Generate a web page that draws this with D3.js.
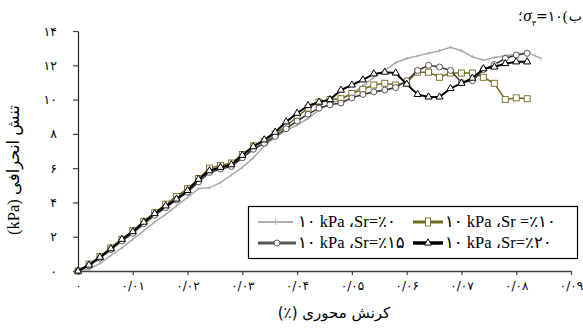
<!DOCTYPE html>
<html><head><meta charset="utf-8">
<script src="https://cdn.jsdelivr.net/npm/d3@7"></script>
<style>
html,body{margin:0;padding:0;background:#fff;}
svg{display:block;}
.ltr{unicode-bidi:bidi-override;direction:ltr;}
</style></head>
<body><svg id="c" width="583" height="329"></svg>
<script>
// ---- data ----
const strain = [0,0.002,0.004,0.006,0.008,0.010,0.012,0.014,0.016,0.018,0.020,0.022,0.024,0.026,0.028,0.030,0.032,0.034,0.036,0.038,0.040,0.042,0.044,0.046,0.048,0.050,0.052,0.054,0.056,0.058,0.060,0.062,0.064,0.066,0.068,0.070,0.072,0.074,0.076,0.078,0.080,0.082];
const sr20 = [0,0.35,0.8,1.3,1.85,2.3,2.85,3.35,3.8,4.2,4.7,5.35,5.85,6.05,6.2,6.75,7.25,7.65,8.1,8.7,9.2,9.65,9.85,10.0,10.55,10.85,11.15,11.5,11.6,11.55,10.9,10.3,10.15,10.15,10.65,10.95,11.25,11.8,11.9,12.1,12.2,12.2];
const sr10 = [0,0.4,0.85,1.35,1.85,2.35,2.9,3.4,3.9,4.35,4.8,5.4,6.0,6.15,6.3,6.8,7.3,7.55,8.0,8.45,9.0,9.5,9.85,10.0,10.05,10.35,10.6,10.85,10.95,10.85,11.0,11.6,11.6,11.3,11.55,11.55,11.55,11.3,10.95,10.0,10.1,10.05];
const sr15 = [0,0.3,0.75,1.25,1.75,2.2,2.75,3.25,3.7,4.15,4.6,5.2,5.75,5.95,6.1,6.6,7.1,7.45,7.85,8.3,8.75,9.15,9.5,9.7,9.8,10.1,10.3,10.45,10.55,10.7,11.1,11.7,12.0,11.9,11.7,11.0,11.1,11.75,12.05,12.4,12.6,12.7];
const strain0 = [0,0.002,0.004,0.006,0.008,0.010,0.012,0.014,0.016,0.018,0.020,0.022,0.024,0.026,0.028,0.030,0.032,0.034,0.036,0.038,0.040,0.042,0.044,0.046,0.048,0.050,0.052,0.054,0.056,0.058,0.060,0.062,0.064,0.066,0.068,0.070,0.072,0.074,0.076,0.078,0.080,0.082,0.0835,0.0845];
const sr0 = [0,0.1,0.45,0.9,1.35,1.85,2.35,2.85,3.3,3.8,4.3,4.8,4.85,5.15,5.6,6.05,6.6,7.3,7.8,8.2,8.5,8.9,9.4,9.75,10.0,10.35,10.8,11.3,11.7,12.15,12.4,12.55,12.7,12.85,13.05,12.85,12.5,12.3,12.45,12.55,12.65,12.75,12.55,12.4];
const xTickValues = [0,0.01,0.02,0.03,0.04,0.05,0.06,0.07,0.08,0.09];
const xTickLabels = ["۰","۰/۰۱","۰/۰۲","۰/۰۳","۰/۰۴","۰/۰۵","۰/۰۶","۰/۰۷","۰/۰۸","۰/۰۹"];
const yTickValues = [0,2,4,6,8,10,12,14];
const yTickLabels = ["۰","۲","۴","۶","۸","۱۰","۱۲","۱۴"];
const legendLabels = ["۱۰ kPa ،Sr=٪۰","۱۰ kPa ،Sr =٪۱۰","۱۰ kPa ،Sr=٪۱۵","۱۰ kPa ،Sr=٪۲۰"];
const xTitle = "کرنش محوری (٪)";
const titlePieces = ["؛","σ","۳","=۱۰","(","ب"];       // visual order, left to right

// ---- chart ----
const svg = d3.select("#c");
const x = d3.scaleLinear().domain([0,0.09]).range([78,571]);
const y = d3.scaleLinear().domain([0,14]).range([271,31]);

// helper: lay separate text pieces left-to-right in visual order
function layRow(g, pieces, y0, anchorX, align){
  const els = pieces.map(p=>{
    const t = g.append("text").attr("direction","ltr").attr("text-anchor","start")
      .attr("y",y0+(p.dy||0))
      .attr("font-family",p.font).attr("font-size",p.size).text(p.text);
    if(p.italic) t.attr("font-style","italic");
    return t;
  });
  const widths = els.map(e=>e.node().getComputedTextLength());
  const gaps = pieces.map(p=>p.gap||0);
  const total = d3.sum(widths)+d3.sum(gaps);
  let cx = align==="end" ? anchorX-total : anchorX-total/2;
  els.forEach((e,i)=>{ e.attr("x",cx); cx += widths[i]+gaps[i]; });
}

// axes
const xAxis = d3.axisBottom(x).tickValues(xTickValues).tickSize(4).tickSizeOuter(0)
  .tickFormat((d,i)=>xTickLabels[i]);
const gx = svg.append("g").attr("transform","translate(0,271)").call(xAxis);
gx.select(".domain").attr("stroke","#444").attr("stroke-width",1.3);
gx.selectAll(".tick line").attr("stroke","#444").attr("stroke-width",1.2);
gx.selectAll(".tick text").attr("class","ltr").attr("y",10)
  .attr("font-family","'DejaVu Sans'").attr("font-size",12).attr("fill","#000");

const yAxis = d3.axisLeft(y).tickValues(yTickValues).tickSize(5).tickSizeOuter(0)
  .tickFormat((d,i)=>yTickLabels[i]);
const gy = svg.append("g").attr("transform","translate(78,0)").call(yAxis);
gy.select(".domain").attr("stroke","#222").attr("stroke-width",1.2);
gy.selectAll(".tick line").attr("stroke","#444").attr("stroke-width",1.2);
gy.selectAll(".tick text").attr("class","ltr").attr("x",-21).attr("text-anchor","end")
  .attr("font-family","'DejaVu Sans'").attr("font-size",12.5).attr("fill","#000");

// x axis title (natural right-to-left text)
svg.append("text").attr("x",334).attr("y",318).attr("text-anchor","middle")
  .attr("direction","rtl").style("direction","rtl")
  .attr("font-family","'DejaVu Sans'").attr("font-size",15).text(xTitle);

// y axis title
svg.append("text").attr("transform","translate(19,170) rotate(-90)").attr("text-anchor","middle")
  .attr("font-family","'Liberation Serif','DejaVu Sans'").attr("font-size",16.5)
  .text("(kPa) تنش انحرافی");

// chart title
layRow(svg.append("g"), [
  {text:titlePieces[0],font:"'DejaVu Sans'",size:14,gap:1},
  {text:titlePieces[1],font:"'Liberation Serif'",size:17,italic:true},
  {text:titlePieces[2],font:"'DejaVu Sans'",size:8,dy:5},
  {text:titlePieces[3],font:"'DejaVu Sans'",size:14},
  {text:titlePieces[4],font:"'Liberation Serif'",size:15,gap:1},
  {text:titlePieces[5],font:"'DejaVu Sans'",size:14}
], 21, 582, "end");

// series
const line = d3.line().x(d=>x(d[0])).y(d=>y(d[1]));
const d0 = strain0.map((s,i)=>[s,sr0[i]]);
const d10 = strain.map((s,i)=>[s,sr10[i]]);
const d15 = strain.map((s,i)=>[s,sr15[i]]);
const d20 = strain.map((s,i)=>[s,sr20[i]]);

const plot = svg.append("g");
plot.append("path").datum(d0).attr("d",line).attr("fill","none").attr("stroke","#a9a9a9").attr("stroke-width",1.5);
plot.selectAll(".t0").data(d0).enter().append("line")
  .attr("x1",d=>x(d[0])).attr("x2",d=>x(d[0])).attr("y1",d=>y(d[1])-1.5).attr("y2",d=>y(d[1])+1.5)
  .attr("stroke","#a9a9a9").attr("stroke-width",1);

const olive = "#6f6a1c";
plot.append("path").datum(d10).attr("d",line).attr("fill","none").attr("stroke",olive).attr("stroke-width",1.5);
plot.selectAll(".m10").data(d10).enter().append("rect")
  .attr("x",d=>x(d[0])-3).attr("y",d=>y(d[1])-3).attr("width",6).attr("height",6)
  .attr("fill","#fff").attr("stroke",olive).attr("stroke-width",0.9);

plot.append("path").datum(d15).attr("d",line).attr("fill","none").attr("stroke","#3a3a3a").attr("stroke-width",1.6);
plot.selectAll(".m15").data(d15).enter().append("circle")
  .attr("cx",d=>x(d[0])).attr("cy",d=>y(d[1])).attr("r",3)
  .attr("fill","#fff").attr("stroke","#444").attr("stroke-width",0.9);

const tri = d3.symbol().type(d3.symbolTriangle).size(22);
plot.append("path").datum(d20).attr("d",line).attr("fill","none").attr("stroke","#000").attr("stroke-width",2);
plot.selectAll(".m20").data(d20).enter().append("path")
  .attr("d",tri).attr("transform",d=>`translate(${x(d[0])},${y(d[1])})`)
  .attr("fill","#fff").attr("stroke","#000").attr("stroke-width",1);

// legend
const lg = svg.append("g");
lg.append("rect").attr("x",248.5).attr("y",206.5).attr("width",329).attr("height",52)
  .attr("fill","#fff").attr("stroke","#000").attr("stroke-width",1.2);
const items = [
  {lx:[258,293],ty:222,tx:298,col:"#b0b0b0",w:2,m:"tick"},
  {lx:[413,443],ty:222,tx:445,col:olive,w:3,m:"sq"},
  {lx:[258,296],ty:243,tx:298,col:"#555",w:3,m:"ci"},
  {lx:[413,443],ty:243,tx:445,col:"#000",w:3.5,m:"tr"}
];
items.forEach((it,i)=>{
  const g = lg.append("g");
  const mx = (it.lx[0]+it.lx[1])/2;
  g.append("line").attr("x1",it.lx[0]).attr("x2",it.lx[1]).attr("y1",it.ty).attr("y2",it.ty)
    .attr("stroke",it.col).attr("stroke-width",it.w);
  if(it.m==="tick") g.append("line").attr("x1",mx).attr("x2",mx).attr("y1",it.ty-3).attr("y2",it.ty+3).attr("stroke",it.col).attr("stroke-width",1);
  if(it.m==="sq") g.append("rect").attr("x",mx-2.5).attr("y",it.ty-4).attr("width",5).attr("height",8).attr("fill","#fff").attr("stroke",olive).attr("stroke-width",0.9);
  if(it.m==="ci") g.append("circle").attr("cx",mx).attr("cy",it.ty).attr("r",3).attr("fill","#fff").attr("stroke","#555").attr("stroke-width",0.9);
  if(it.m==="tr") g.append("path").attr("d",tri).attr("transform",`translate(${mx},${it.ty})`).attr("fill","#fff").attr("stroke","#000").attr("stroke-width",1);
  g.append("text").attr("class","ltr").attr("x",it.tx).attr("y",it.ty+5)
    .attr("font-family","'Liberation Serif','DejaVu Sans'").attr("font-size",16.5).text(legendLabels[i]);
});
</script></body></html>
